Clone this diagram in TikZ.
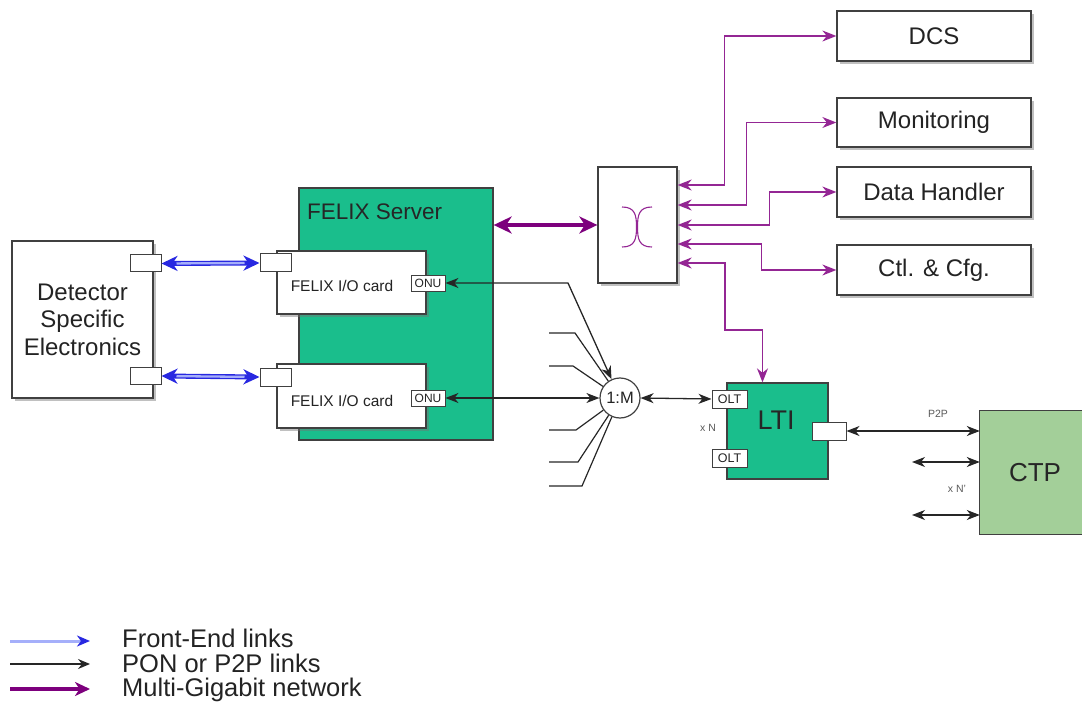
\documentclass[tikz,border=0pt]{standalone}
\usepackage{fontspec}
\setmainfont{Liberation Sans}
\usetikzlibrary{arrows.meta,shadows,calc}
\definecolor{fgreen}{RGB}{26,190,140}
\definecolor{cgreen}{RGB}{163,207,153}
\definecolor{pur}{RGB}{148,38,148}
\definecolor{dpur}{RGB}{125,0,125}
\definecolor{feblue}{RGB}{40,40,225}
\definecolor{felight}{RGB}{165,175,250}
\definecolor{txt}{RGB}{35,35,35}
\tikzset{
  shad/.style={drop shadow={shadow xshift=3pt,shadow yshift=-3pt,fill=black!55,opacity=.45}},
  box/.style={draw=black!75, line width=1.3pt, fill=white, shad, inner sep=0pt, text=txt},
  port/.style={draw=black!75, line width=1pt, fill=white, inner sep=0pt, text=txt},
  gbox/.style={draw=black!75, line width=1.3pt, fill=fgreen, inner sep=0pt},
  f24/.style={font=\fontsize{24}{27.5}\selectfont},
  f22/.style={font=\fontsize{22.5}{26}\selectfont},
  f26/.style={font=\fontsize{25.5}{28}\selectfont},
  f15/.style={font=\fontsize{15.5}{18}\selectfont},
  fsm/.style={font=\fontsize{10.5}{12}\selectfont, text=black!65, inner sep=0pt},
  ptip/.tip={Stealth[length=14pt,width=11pt,inset=4.5pt]},
  btip/.tip={Stealth[length=13pt,width=10pt,inset=4pt]},
  gtip/.tip={Stealth[length=18pt,width=17pt,inset=5.5pt]},
  ftip/.tip={Stealth[length=16pt,width=15pt,inset=5pt]},
  pl/.style={draw=pur, line width=1.4pt, arrows={ptip-ptip}},
  bigpl/.style={draw=dpur, line width=3.8pt, arrows={gtip-gtip}},
  bl/.style={draw=black!85, line width=1.3pt, arrows={btip-btip}},
  fan/.style={draw=black!85, line width=1.2pt},
  feout/.style={draw=feblue, line width=5pt, arrows={ftip-ftip}},
  fein/.style={draw=felight, line width=2.3pt},
}
\begin{document}
\begin{tikzpicture}[x=1pt,y=-1pt]
\useasboundingbox (0,0) rectangle (1082,722);

% Detector electronics
\node[box, minimum width=141pt, minimum height=157pt, align=center, f24] (det) at (82.5,319.5) {Detector\\Specific\\Electronics};
\node[port, minimum width=31pt, minimum height=17pt] (detp1) at (145.5,263.5) {};
\node[port, minimum width=31pt, minimum height=17pt] (detp2) at (145.5,376) {};

% FELIX server
\node[gbox, minimum width=194pt, minimum height=252pt] (felix) at (396,314) {};
\node[anchor=west, f22, text=black!85, inner sep=0pt] (ftitle) at (307,212) {FELIX Server};
\node[box, minimum width=149pt, minimum height=63pt] (card1) at (351.5,282.5) {};
\node[box, minimum width=149pt, minimum height=64pt] (card2) at (351.5,396) {};
\node[f15, text=txt] (c1t) at (342,286) {FELIX I/O card};
\node[f15, text=txt] (c2t) at (342,401) {FELIX I/O card};
\node[port, minimum width=31pt, minimum height=18pt] (cardp1) at (275.5,263) {};
\node[port, minimum width=31pt, minimum height=18pt] (cardp2) at (275.5,377) {};
\node[port, line width=0.9pt, minimum width=34pt, minimum height=16pt, font=\fontsize{12}{13}\selectfont] (onu1) at (428,283) {ONU};
\node[port, line width=0.9pt, minimum width=34pt, minimum height=16pt, font=\fontsize{12}{13}\selectfont] (onu2) at (428,398) {ONU};

% front-end links
\draw[feout] (detp1.east) -- (cardp1.west);
\draw[fein, shorten <=15pt, shorten >=15pt] (detp1.east) -- (cardp1.west);
\draw[feout] (detp2.east) -- (cardp2.west);
\draw[fein, shorten <=15pt, shorten >=15pt] (detp2.east) -- (cardp2.west);

% switch
\node[box, minimum width=79pt, minimum height=116pt] (sw) at (637.5,225) {};
\draw[pur, line width=1.1pt] (622,207) .. controls (635,207) and (636.5,215) .. (636.5,227) .. controls (636.5,239) and (635,247) .. (622,247);
\draw[pur, line width=1.1pt] (652,207) .. controls (639,207) and (637.5,215) .. (637.5,227) .. controls (637.5,239) and (639,247) .. (652,247);

% right boxes
\node[box, minimum width=194pt, minimum height=50pt, f24] (dcs) at (934,36) {DCS};
\node[box, minimum width=194pt, minimum height=49pt, f24] (mon) at (934,122.5) {Monitoring};
\node[box, minimum width=194pt, minimum height=50pt, f24] (dh) at (934,192) {Data Handler};
\node[box, minimum width=194pt, minimum height=50pt, f24] (ctl) at (934,270) {Ctl. \& Cfg.};

% LTI
\node[gbox, minimum width=101pt, minimum height=96pt] (lti) at (777.5,431) {};
\node[font=\fontsize{27}{30}\selectfont, text=black!85] (ltit) at (776,420) {LTI};
\node[port, minimum width=35pt, minimum height=18pt, font=\fontsize{12.5}{14}\selectfont] (olt1) at (729.5,399) {OLT};
\node[port, minimum width=35pt, minimum height=18pt, font=\fontsize{12.5}{14}\selectfont] (olt2) at (729.5,458) {OLT};
\node[port, minimum width=34pt, minimum height=18pt] (ltip) at (829,431) {};
\node[fsm] (xn) at (708,428) {x N};

% CTP
\node[fill=cgreen, minimum width=102pt, minimum height=123pt, inner sep=0pt] (ctp) at (1031,472.5) {};
\draw[black!75, line width=1.3pt] (ctp.north east) -- (ctp.north west) -- (ctp.south west) -- (ctp.south east);
\node[font=\fontsize{26}{30}\selectfont, text=black!85] (ctpt) at (1035,473) {CTP};

% splitter
\node[circle, draw=black!75, line width=1.2pt, fill=white, minimum size=40pt, inner sep=0pt, font=\fontsize{16.5}{18}\selectfont, text=txt] (circ) at (620,398) {1:M};

% multi-gigabit network
\draw[bigpl] (sw.west -| felix.east) -- (sw.west);
\draw[pl] ([yshift=40pt]sw.east) -| ([xshift=-112pt]dcs.west) -- (dcs.west);
\draw[pl] ([yshift=20pt]sw.east) -| ([xshift=-90pt]mon.west) -- (mon.west);
\draw[pl] (sw.east) -| ([xshift=-67pt]dh.west) -- (dh.west);
\draw[pl] ([yshift=-19pt]sw.east) -| ([xshift=-75pt]ctl.west) -- (ctl.west);
\coordinate (c5) at (725,330);
\draw[pl] ([yshift=-38pt]sw.east) -| (c5) -| ([xshift=-15pt]lti.north);

% PON links
\coordinate (k1) at (568,283);
\draw[bl] (onu1.east) -- (k1) -- (circ);
\draw[bl] (onu2.east) -- (circ.west);
\draw[bl] (circ.east) -- (olt1.west);
\coordinate (f1a) at (549,333); \coordinate (f1b) at (575,333);
\coordinate (f2a) at (549,366); \coordinate (f2b) at (573,366);
\coordinate (f3a) at (549,430); \coordinate (f3b) at (576,430);
\coordinate (f4a) at (549,462); \coordinate (f4b) at (578,462);
\coordinate (f5a) at (549,486); \coordinate (f5b) at (582,486);
\draw[fan] (f1a) -- (f1b) -- (circ);
\draw[fan] (f2a) -- (f2b) -- (circ);
\draw[fan] (f3a) -- (f3b) -- (circ);
\draw[fan] (f4a) -- (f4b) -- (circ);
\draw[fan] (f5a) -- (f5b) -- (circ);

% P2P links
\draw[bl] (ltip.east) -- (ltip.east -| ctp.west);
\node[fsm] (p2p) at (938,414) {P2P};
\coordinate (g1) at (912,462);
\coordinate (g2) at (912,515);
\draw[bl] (g1) -- (g1 -| ctp.west);
\draw[bl] (g2) -- (g2 -| ctp.west);
\node[fsm] (xn2) at (957,489) {x N'};

% legend
\coordinate (la1) at (10,641); \coordinate (lb1) at (90,641);
\coordinate (la2) at (10,664); \coordinate (lb2) at (90,664);
\coordinate (la3) at (10,689); \coordinate (lb3) at (90,689);
\draw[draw=felight, line width=3pt, -{Stealth[length=13pt,width=11pt,inset=4pt,color=feblue]}] (la1) -- (lb1);
\draw[draw=black!85, line width=1.3pt, -{Stealth[length=12pt,width=10pt,inset=4pt]}] (la2) -- (lb2);
\draw[draw=dpur, line width=3.8pt, -{Stealth[length=15pt,width=14pt,inset=4.5pt]}] (la3) -- (lb3);
\node[anchor=west, f26, text=txt, inner sep=0pt] (lt1) at (122,638) {Front-End links};
\node[anchor=west, f26, text=txt, inner sep=0pt] (lt2) at (122,663.5) {PON or P2P links};
\node[anchor=west, f26, text=txt, inner sep=0pt] (lt3) at (122,690) {Multi-Gigabit network};
\end{tikzpicture}
\end{document}
